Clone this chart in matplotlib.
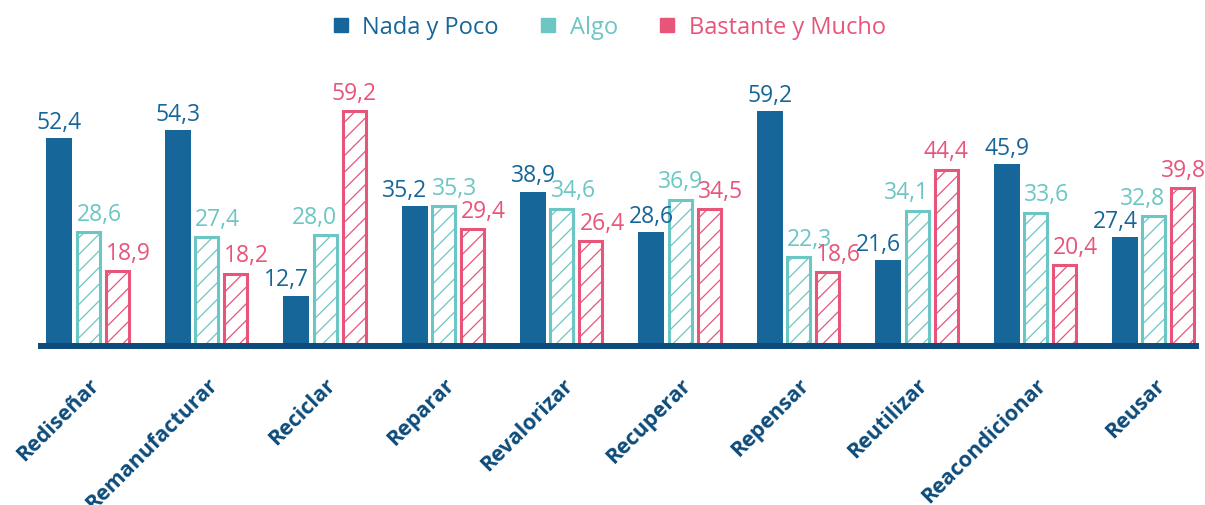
import numpy as np
import matplotlib
matplotlib.use("Agg")
import matplotlib.pyplot as plt
import matplotlib.transforms as mtransforms
from matplotlib.lines import Line2D

plt.rcParams['font.family'] = ['Open Sans', 'DejaVu Sans']
plt.rcParams['hatch.linewidth'] = 0.9

# data
categories = ['Rediseñar', 'Remanufacturar', 'Reciclar', 'Reparar', 'Revalorizar',
              'Recuperar', 'Repensar', 'Reutilizar', 'Reacondicionar', 'Reusar']
nada_poco = [52.4, 54.3, 12.7, 35.2, 38.9, 28.6, 59.2, 21.6, 45.9, 27.4]
algo = [28.6, 27.4, 28.0, 35.3, 34.6, 36.9, 22.3, 34.1, 33.6, 32.8]
bastante_mucho = [18.9, 18.2, 59.2, 29.4, 26.4, 34.5, 18.6, 44.4, 20.4, 39.8]
series_names = ['Nada y Poco', 'Algo', 'Bastante y Mucho']

# how each value label sits on its bar (the original nudges them apart)
align_nada = ['center', 'center', 'right', 'right', 'center', 'center', 'center', 'right', 'center', 'right']
align_algo = ['left', 'left', 'right', 'left', 'left', 'center', 'left', 'right', 'left', 'right']
align_bast = ['left', 'left', 'center', 'left', 'left', 'left', 'left', 'center', 'left', 'center']

c_dark = '#17669a'
c_teal = '#6cc6c4'
c_pink = '#e8557a'
c_navy = '#0d4b7a'

fig = plt.figure(figsize=(12.05, 5.06), dpi=100)
ax_h = 70 * 3.97 / 506
ax = fig.add_axes([41 / 1205, (506 - 347) / 506, (1196 - 41) / 1205, ax_h])

x = np.arange(len(categories))
step = 0.245
w_solid = 0.22
w_hatch = 0.194

b1 = ax.bar(x - step, nada_poco, width=w_solid, color=c_dark, zorder=2)
b2 = ax.bar(x, algo, width=w_hatch, facecolor='white', edgecolor=c_teal,
            linewidth=2.2, hatch='//', zorder=2)
b3 = ax.bar(x + step, bastante_mucho, width=w_hatch, facecolor='white', edgecolor=c_pink,
            linewidth=2.2, hatch='//', zorder=2)

def fmt(v):
    return f"{v:.1f}".replace('.', ',')

for bars, vals, col, off, aligns in [(b1, nada_poco, c_dark, 3, align_nada),
                                     (b2, algo, c_teal, 4.5, align_algo),
                                     (b3, bastante_mucho, c_pink, 4.5, align_bast)]:
    for rect, v, ha in zip(bars, vals, aligns):
        if ha == 'left':
            xp = rect.get_x()
        elif ha == 'right':
            xp = rect.get_x() + rect.get_width()
        else:
            xp = rect.get_x() + rect.get_width() / 2
        ax.annotate(fmt(v), (xp, v), xytext=(0, off), textcoords='offset points',
                    ha=ha, va='bottom', fontsize=16.5, color=col)

ax.set_xlim(-0.40, 9.355)
ax.set_ylim(0, 70)
ax.set_yticks([])
ax.set_xticks([])
for s in ['top', 'right', 'left']:
    ax.spines[s].set_visible(False)
ax.spines['bottom'].set_color(c_navy)
ax.spines['bottom'].set_linewidth(4.3)
ax.spines['bottom'].set_zorder(3)

trans = mtransforms.blended_transform_factory(ax.transData, ax.transAxes)
for i, lab in enumerate(categories):
    ax.text(i, -28 / (ax_h * 506), lab, transform=trans, rotation=45,
            rotation_mode='anchor', ha='right', va='top',
            fontsize=15.5, fontweight='bold', color=c_navy)

handles = [Line2D([], [], marker='s', linestyle='none', markersize=10,
                  markerfacecolor=c, markeredgecolor=c)
           for c in [c_dark, c_teal, c_pink]]
fig.legend(handles, series_names, loc='center', bbox_to_anchor=(0.505, 0.945),
           ncol=3, frameon=False, fontsize=17, labelcolor='markerfacecolor',
           handlelength=0.8, handletextpad=0.5, columnspacing=1.7)

fig.savefig('out.png', dpi=100)
